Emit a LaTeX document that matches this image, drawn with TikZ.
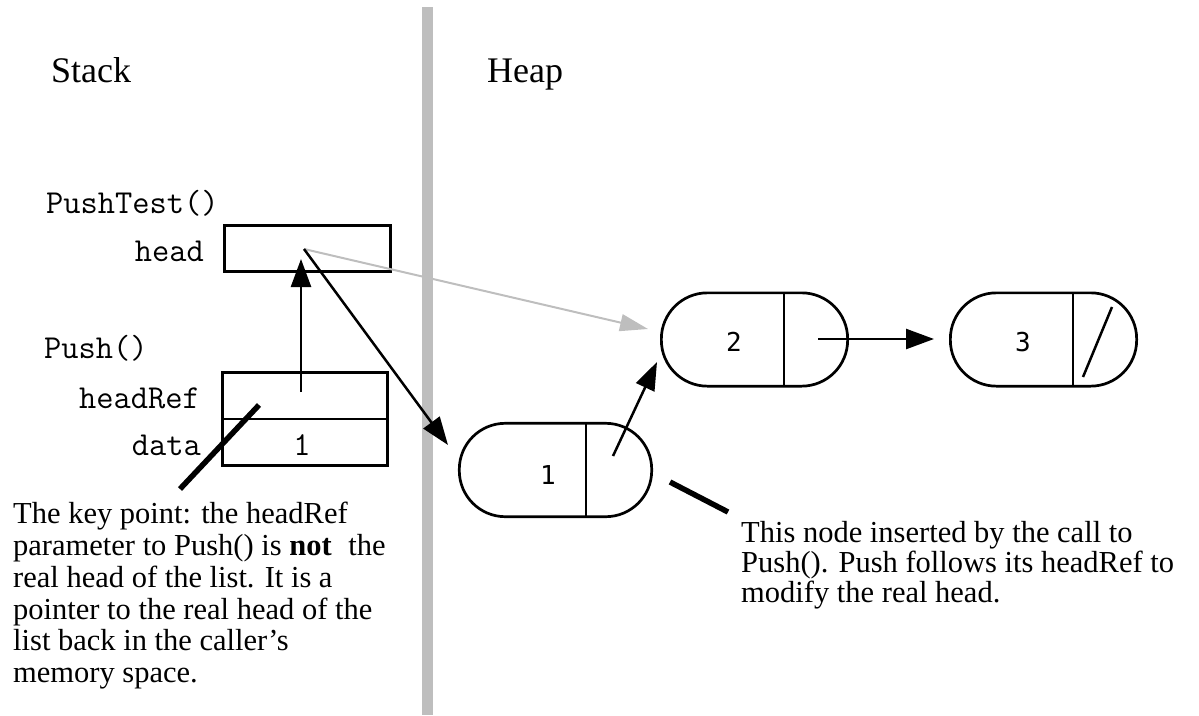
\documentclass[tikz,border=0pt]{standalone}
\usepackage{fontspec}
\setmainfont{Liberation Serif}
\newfontfamily\numfont{DejaVu Sans Mono}
\usetikzlibrary{arrows.meta}
\definecolor{barGray}{RGB}{190,190,190}
\begin{document}
\begin{tikzpicture}[x=1pt,y=-1pt,
  box/.style={draw, line width=2.7pt, minimum width=165.4pt, inner sep=0pt, outer sep=0pt},
  listnode/.style={draw, line width=2.7pt, rectangle, rounded corners=46pt, minimum width=186.3pt, minimum height=93.3pt, inner sep=0pt, outer sep=0pt},
  arr/.style={line width=2.5pt, -{Triangle[length=28pt,width=20pt]}},
  grayarr/.style={line width=2pt, draw=barGray, -{Triangle[length=28pt,width=17pt]}, fill=barGray},
  callout/.style={line width=5.5pt},
  mono/.style={font=\ttfamily\fontsize{33.5}{33.5}\selectfont, inner sep=0pt},
  num/.style={font=\numfont\fontsize{26}{26}\selectfont, inner sep=0pt},
  heading/.style={font=\fontsize{36}{36}\selectfont, inner sep=0pt, anchor=base west},
  note/.style={inner sep=0pt, anchor=north west, align=left}
]
\useasboundingbox (0,0) rectangle (1199,715);

% divider bar
\coordinate (bartop) at (427.5,7);
\coordinate (barbot) at (427.5,715);
\draw[barGray, line width=11pt] (bartop) -- (barbot);

% headings
\node[heading] (stack) at (51,82) {Stack};
\node[heading] (heap) at (487,82) {Heap};

% stack frames
\node[mono, anchor=base west] (pushtest) at (46,213) {PushTest()};
\node[mono, anchor=base east] (headlbl) at (204,261) {head};
\node[box, minimum width=166pt, minimum height=46.3pt] (head) at (307.5,248.5) {};

\node[mono, anchor=base west] (push) at (44,358) {Push()};
\node[mono, anchor=base east] (headreflbl) at (200,408) {headRef};
\node[mono, anchor=base east] (datalbl) at (201,455) {data};
\node[box, minimum height=46.7pt] (headref) at (305,395.65) {};
\node[box, minimum height=46.7pt] (data) at (305,442.35) {};
\node[mono, anchor=base] (dataval) at (302,455) {1};

% heap nodes
\node[listnode, minimum width=192.4pt, minimum height=93.4pt] (n1) at (555.5,470) {};
\node[listnode] (n2) at (754.5,339.5) {};
\node[listnode] (n3) at (1043.5,339.5) {};
\coordinate (d1) at (586,0);
\coordinate (d2) at (784,0);
\coordinate (d3) at (1073,0);
\draw[line width=2.7pt] (n1.north -| d1) -- (n1.south -| d1);
\draw[line width=2.7pt] (n2.north -| d2) -- (n2.south -| d2);
\draw[line width=2.7pt] (n3.north -| d3) -- (n3.south -| d3);
\node[num] (v1) at (548,475.5) {1};
\node[num] (v2) at (734,342) {2};
\node[num] (v3) at (1023,342) {3};

% pointer coordinates
\coordinate (headptr) at (304,249);
\coordinate (headreftip) at (301,259);
\coordinate (headrefptr) at (301,392);
\coordinate (n1tip) at (448,445);
\coordinate (n2tipgray) at (648,329);
\coordinate (n1ptr) at (613,456);
\coordinate (n2tip) at (657,362);
\coordinate (n2ptr) at (818,339);
\coordinate (n3tip) at (934,339);
\coordinate (nullA) at (1112,307);
\coordinate (nullB) at (1083,377);

\draw[grayarr] (headptr) -- (n2tipgray);
\draw[arr] (headptr) -- (n1tip);
\draw[arr] (headrefptr) -- (headreftip);
\draw[arr] (n1ptr) -- (n2tip);
\draw[arr] (n2ptr) -- (n3tip);
\draw[line width=2.5pt] (nullA) -- (nullB);

% callouts
\coordinate (cA1) at (259,405);
\coordinate (cA2) at (180,489);
\coordinate (cB1) at (670,482);
\coordinate (cB2) at (728,512);
\draw[callout] (cA1) -- (cA2);
\draw[callout] (cB1) -- (cB2);

\node[note, font=\fontsize{30.5}{31.8}\selectfont] (noteL) at (13,502)
  {The key point: the headRef\\parameter to Push() is \textbf{not}\hspace{0.3em} the\\real head of the list. It is a\\pointer to the real head of the\\list back in the caller’s\\memory space.};
\node[note, font=\fontsize{30.5}{30}\selectfont] (noteR) at (741,521)
  {This node inserted by the call to\\Push(). Push follows its headRef to\\modify the real head.};
\end{tikzpicture}
\end{document}
